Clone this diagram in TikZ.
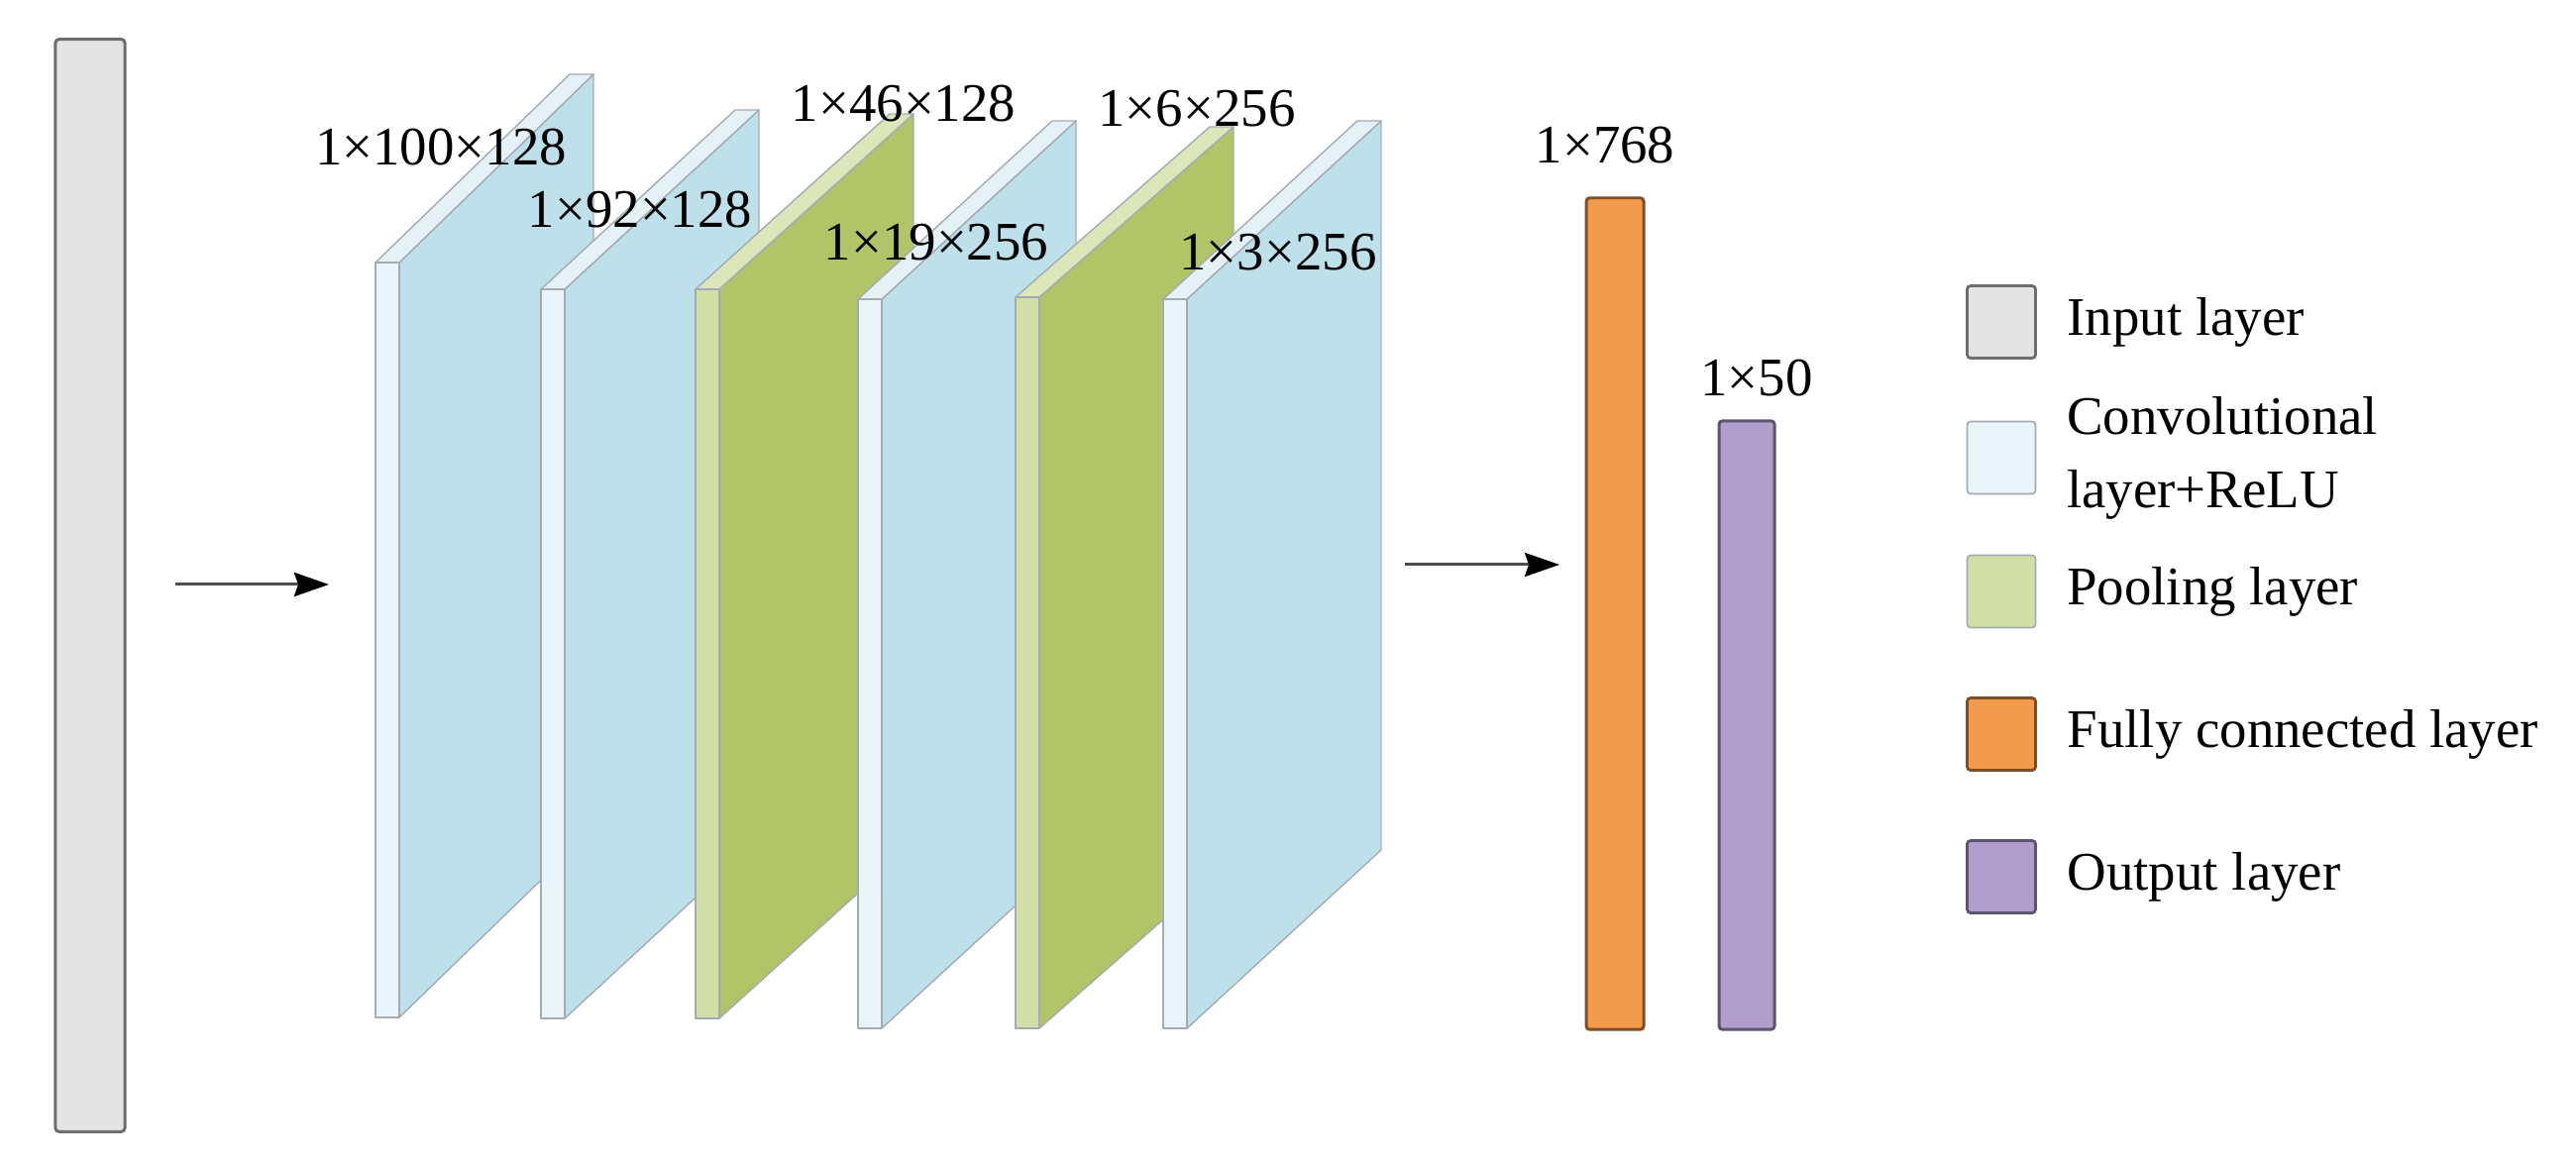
\documentclass[tikz,border=0pt]{standalone}
\usepackage{fontspec}
\setmainfont{Liberation Serif}
\usetikzlibrary{arrows.meta,positioning}

\definecolor{convside}{HTML}{BEE0EB}
\definecolor{convfront}{HTML}{EAF5FB}
\definecolor{convtop}{HTML}{E4F1F7}
\definecolor{poolside}{HTML}{B2C468}
\definecolor{poolfront}{HTML}{D2DFA6}
\definecolor{pooltop}{HTML}{DCE6B8}
\definecolor{plateline}{HTML}{A4ACB2}
\definecolor{inputfill}{HTML}{E4E4E4}
\definecolor{inputedge}{HTML}{6E6E6E}
\definecolor{fcfill}{HTML}{F29B4C}
\definecolor{fcedge}{HTML}{7D4E2A}
\definecolor{outfill}{HTML}{B19ECA}
\definecolor{outedge}{HTML}{5D5470}
\definecolor{arrowgray}{HTML}{4D4D4D}

\begin{document}
\begin{tikzpicture}[x=0.01cm, y=-0.01cm, font=\fontsize{15.6}{21}\selectfont,
		plate edge/.style={draw=plateline, line width=0.4pt, line join=round},
		layerbar/.style={draw, line width=0.85pt, rounded corners=1pt, inner sep=0},
		dimlabel/.style={anchor=base, inner sep=0},
		keybox/.style={draw, line width=0.8pt, rounded corners=1pt, minimum width=0.69cm, minimum height=0.73cm, inner sep=0},
		keytext/.style={inner sep=0, align=left},
		flow/.style={draw=arrowgray, line width=0.85pt, -{Stealth[length=0.35cm, width=0.24cm, inset=0.04cm, color=black]}}]
		\useasboundingbox (0,0) rectangle (2600,1180);

		% input column
		\node[layerbar, fill=inputfill, draw=inputedge, minimum width=0.70cm, minimum height=11.02cm] (input) at (91,591) {};
		\coordinate (in-s) at (177,590);
		\coordinate (in-e) at (332,590);
		\draw[flow] (in-s) -- (in-e);

		% conv / pooling plates, back to front
		\foreach \xl/\yt/\yb/\dy/\kind in {379/265/1027/-190/conv, 546/292/1028/-181/conv, 702/292/1028/-177/pool, 866/302/1038/-180/conv, 1025/300/1038/-172/pool, 1174/302/1038/-180/conv}{
			\draw[plate edge, fill=\kind side] (\xl+24,\yt) -- ++(196,\dy) -- ++(0,\yb-\yt) -- (\xl+24,\yb) -- cycle;
			\draw[plate edge, fill=\kind top] (\xl,\yt) -- ++(196,\dy) -- ++(24,0) -- (\xl+24,\yt) -- cycle;
			\draw[plate edge, fill=\kind front] (\xl,\yt) rectangle (\xl+24,\yb);
		}

		\node[dimlabel] (c1) at (445,167) {1×100×128};
		\node[dimlabel] (c2) at (646,230) {1×92×128};
		\node[dimlabel] (p1) at (912,123) {1×46×128};
		\node[dimlabel] (c3) at (945,263) {1×19×256};
		\node[dimlabel] (p2) at (1208,128) {1×6×256};
		\node[dimlabel] (c4) at (1290,273) {1×3×256};

		% dense part
		\coordinate (fc-s) at (1418,570);
		\coordinate (fc-e) at (1574,570);
		\draw[flow] (fc-s) -- (fc-e);
		\node[layerbar, fill=fcfill, draw=fcedge, minimum width=0.58cm, minimum height=8.39cm] (fc) at (1630,619.5) {};
		\node[layerbar, fill=outfill, draw=outedge, minimum width=0.56cm, minimum height=6.14cm] (out) at (1763,732) {};
		\node[dimlabel, above=0.32cm of fc, anchor=south, xshift=-0.1cm] (fcdim) {1×768};
		\node[dimlabel, above=0.23cm of out, anchor=south, xshift=0.1cm] (outdim) {1×50};

		% legend
		\node[keybox, fill=inputfill, draw=inputedge] (key1) at (2020,325) {};
		\node[keybox, fill=convfront, draw=plateline, line width=0.5pt] (key2) at (2020,462) {};
		\node[keybox, fill=poolfront, draw=plateline, line width=0.5pt] (key3) at (2020,597) {};
		\node[keybox, fill=fcfill, draw=fcedge] (key4) at (2020,741) {};
		\node[keybox, fill=outfill, draw=outedge] (key5) at (2020,885) {};
		\node[keytext, right=0.3cm of key1] (key1t) {Input layer};
		\node[keytext, right=0.3cm of key2] (key2t) {Convolutional\\layer+ReLU};
		\node[keytext, right=0.3cm of key3] (key3t) {Pooling layer};
		\node[keytext, right=0.3cm of key4] (key4t) {Fully connected layer};
		\node[keytext, right=0.3cm of key5] (key5t) {Output layer};
	\end{tikzpicture}
\end{document}
